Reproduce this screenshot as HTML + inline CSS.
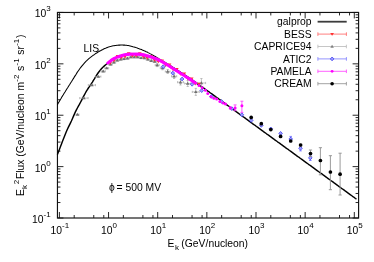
<!DOCTYPE html><html><head><meta charset="utf-8"><style>html,body{margin:0;padding:0;background:#fff;}body{width:374px;height:262px;overflow:hidden;position:relative;}</style></head><body><div style="will-change:transform;position:absolute;left:0;top:0;width:374px;height:262px;"><svg width="374" height="262" viewBox="0 0 374 262" style="position:absolute;left:0;top:0;font-family:'Liberation Sans',sans-serif;">
<rect width="374" height="262" fill="#fff"/>
<g>
<path d="M59.40,218.0v-6M59.40,12.45v6M74.20,218.0v-3M74.20,12.45v3M93.75,218.0v-3M93.75,12.45v3M103.79,218.0v-3M103.79,12.45v3M108.55,218.0v-6M108.55,12.45v6M123.35,218.0v-3M123.35,12.45v3M142.90,218.0v-3M142.90,12.45v3M152.94,218.0v-3M152.94,12.45v3M157.70,218.0v-6M157.70,12.45v6M172.50,218.0v-3M172.50,12.45v3M192.05,218.0v-3M192.05,12.45v3M202.09,218.0v-3M202.09,12.45v3M206.85,218.0v-6M206.85,12.45v6M221.65,218.0v-3M221.65,12.45v3M241.20,218.0v-3M241.20,12.45v3M251.24,218.0v-3M251.24,12.45v3M256.00,218.0v-6M256.00,12.45v6M270.80,218.0v-3M270.80,12.45v3M290.35,218.0v-3M290.35,12.45v3M300.39,218.0v-3M300.39,12.45v3M305.15,218.0v-6M305.15,12.45v6M319.95,218.0v-3M319.95,12.45v3M339.50,218.0v-3M339.50,12.45v3M349.54,218.0v-3M349.54,12.45v3M354.30,218.0v-6M354.30,12.45v6M57.45,218.00h6M358.6,218.00h-6M57.45,202.53h3M358.6,202.53h-3M57.45,193.48h3M358.6,193.48h-3M57.45,187.06h3M358.6,187.06h-3M57.45,182.08h3M358.6,182.08h-3M57.45,178.01h3M358.6,178.01h-3M57.45,174.57h3M358.6,174.57h-3M57.45,171.59h3M358.6,171.59h-3M57.45,168.96h3M358.6,168.96h-3M57.45,166.61h6M358.6,166.61h-6M57.45,151.14h3M358.6,151.14h-3M57.45,142.09h3M358.6,142.09h-3M57.45,135.67h3M358.6,135.67h-3M57.45,130.69h3M358.6,130.69h-3M57.45,126.63h3M358.6,126.63h-3M57.45,123.19h3M358.6,123.19h-3M57.45,120.20h3M358.6,120.20h-3M57.45,117.58h3M358.6,117.58h-3M57.45,115.22h6M358.6,115.22h-6M57.45,99.76h3M358.6,99.76h-3M57.45,90.71h3M358.6,90.71h-3M57.45,84.29h3M358.6,84.29h-3M57.45,79.31h3M358.6,79.31h-3M57.45,75.24h3M358.6,75.24h-3M57.45,71.80h3M358.6,71.80h-3M57.45,68.82h3M358.6,68.82h-3M57.45,66.19h3M358.6,66.19h-3M57.45,63.84h6M358.6,63.84h-6M57.45,48.37h3M358.6,48.37h-3M57.45,39.32h3M358.6,39.32h-3M57.45,32.90h3M358.6,32.90h-3M57.45,27.92h3M358.6,27.92h-3M57.45,23.85h3M358.6,23.85h-3M57.45,20.41h3M358.6,20.41h-3M57.45,17.43h3M358.6,17.43h-3M57.45,14.80h3M358.6,14.80h-3M57.45,12.45h6M358.6,12.45h-6" stroke="#111" stroke-width="0.9" fill="none"/>
<rect x="57.45" y="12.45" width="301.15000000000003" height="205.55" fill="none" stroke="#111" stroke-width="1.15"/>
<text x="59.9" y="234.4" font-size="10.35" text-anchor="middle">10<tspan dy="-6.2" font-size="8">-1</tspan></text>
<text x="109.0" y="234.4" font-size="10.35" text-anchor="middle">10<tspan dy="-6.2" font-size="8">0</tspan></text>
<text x="158.2" y="234.4" font-size="10.35" text-anchor="middle">10<tspan dy="-6.2" font-size="8">1</tspan></text>
<text x="207.3" y="234.4" font-size="10.35" text-anchor="middle">10<tspan dy="-6.2" font-size="8">2</tspan></text>
<text x="256.5" y="234.4" font-size="10.35" text-anchor="middle">10<tspan dy="-6.2" font-size="8">3</tspan></text>
<text x="305.6" y="234.4" font-size="10.35" text-anchor="middle">10<tspan dy="-6.2" font-size="8">4</tspan></text>
<text x="354.8" y="234.4" font-size="10.35" text-anchor="middle">10<tspan dy="-6.2" font-size="8">5</tspan></text>
<text x="50.7" y="222.9" font-size="10.35" text-anchor="end">10<tspan dy="-5.9" font-size="8">-1</tspan></text>
<text x="50.7" y="171.5" font-size="10.35" text-anchor="end">10<tspan dy="-5.9" font-size="8">0</tspan></text>
<text x="50.7" y="120.1" font-size="10.35" text-anchor="end">10<tspan dy="-5.9" font-size="8">1</tspan></text>
<text x="50.7" y="68.7" font-size="10.35" text-anchor="end">10<tspan dy="-5.9" font-size="8">2</tspan></text>
<text x="50.7" y="17.3" font-size="10.35" text-anchor="end">10<tspan dy="-5.9" font-size="8">3</tspan></text>
<text x="167.6" y="247.2" font-size="10.35">E<tspan dx="0.4" dy="2.5" font-size="8">k</tspan><tspan dx="-0.4" dy="-2.5"> (GeV/nucleon)</tspan></text>
<text transform="translate(24.1,196.0) rotate(-90)" font-size="10.35">E<tspan dx="0" dy="2.5" font-size="8">k</tspan><tspan dx="0.9" dy="-8" font-size="8">2</tspan><tspan dx="0.65" dy="5.5">Flux (GeV/nucleon m</tspan><tspan dx="0.3" dy="-5.5" font-size="8">-2</tspan><tspan dx="0.7" dy="5.5"> s</tspan><tspan dx="0.3" dy="-5.5" font-size="8">-1</tspan><tspan dx="0.7" dy="5.5"> sr</tspan><tspan dx="0.3" dy="-5.5" font-size="8">-1</tspan><tspan dx="0.7" dy="5.5">)</tspan></text>
<text x="83.5" y="52" font-size="10.35">LIS</text>
<text x="108.9" y="190.8" font-size="10.35">ϕ<tspan dx="-1.1"> = 500 MV</tspan></text>
<path d="M57.4,104.8 L58.3,103.1 L59.3,101.4 L60.2,99.8 L61.2,98.2 L62.1,96.6 L63.1,95.1 L64.0,93.5 L65.0,92.0 L65.9,90.5 L66.8,89.0 L67.8,87.5 L68.7,86.0 L69.7,84.5 L70.6,83.0 L71.6,81.5 L72.5,79.9 L73.5,78.4 L74.4,76.9 L75.4,75.4 L76.3,73.9 L77.2,72.4 L78.2,71.0 L79.1,69.7 L80.1,68.3 L81.0,67.1 L82.0,65.9 L82.9,64.8 L83.9,63.7 L84.8,62.6 L85.7,61.6 L86.7,60.7 L87.6,59.8 L88.6,58.9 L89.5,58.1 L90.5,57.4 L91.4,56.6 L92.4,55.9 L93.3,55.2 L94.3,54.6 L95.2,53.9 L96.1,53.3 L97.1,52.7 L98.0,52.1 L99.0,51.5 L99.9,51.0 L100.9,50.5 L101.8,50.0 L102.8,49.5 L103.7,49.0 L104.6,48.6 L105.6,48.2 L106.5,47.8 L107.5,47.4 L108.4,47.1 L109.4,46.8 L110.3,46.5 L111.3,46.3 L112.2,46.0 L113.2,45.8 L114.1,45.7 L115.0,45.5 L116.0,45.4 L116.9,45.3 L117.9,45.2 L118.8,45.1 L119.8,45.1 L120.7,45.0 L121.7,45.0 L122.6,45.0 L123.5,45.1 L124.5,45.1 L125.4,45.2 L126.4,45.3 L127.3,45.4 L128.3,45.6 L129.2,45.8 L130.2,46.0 L131.1,46.2 L132.1,46.4 L133.0,46.7 L133.9,46.9 L134.9,47.2 L135.8,47.5 L136.8,47.8 L137.7,48.2 L138.7,48.5 L139.6,48.9 L140.6,49.2 L141.5,49.6 L142.4,50.0 L143.4,50.4 L144.3,50.8 L145.3,51.2 L146.2,51.7 L147.2,52.1 L148.1,52.6 L149.1,53.1 L150.0,53.6 L151.0,54.1 L151.9,54.6 L152.8,55.1 L153.8,55.7 L154.7,56.2 L155.7,56.8 L156.6,57.4 L157.6,57.9 L158.5,58.5 L159.5,59.1 L160.4,59.6 L161.3,60.2 L162.3,60.8 L163.2,61.3 L164.2,61.9 L165.1,62.5 L166.1,63.0 L167.0,63.6 L168.0,64.2 L168.9,64.8 L169.9,65.3 L170.8,65.9 L171.7,66.5 L172.7,67.1 L173.6,67.7 L174.6,68.3 L175.5,68.9 L176.5,69.5 L177.4,70.1 L178.4,70.7 L179.3,71.4 L180.2,72.0 L181.2,72.6 L182.1,73.2 L183.1,73.9 L184.0,74.5 L185.0,75.1 L185.9,75.8 L186.9,76.4 L187.8,77.0 L188.8,77.7 L189.7,78.3 L190.6,79.0 L191.6,79.6 L192.5,80.3 L193.5,80.9 L194.4,81.6 L195.4,82.2 L196.3,82.9 L197.3,83.5 L198.2,84.2" stroke="#000" stroke-width="1.05" fill="none"/>
<path d="M57.4,154.5 L58.4,151.9 L59.4,149.4 L60.4,146.8 L61.4,144.2 L62.4,141.6 L63.4,139.0 L64.4,136.4 L65.4,133.9 L66.4,131.5 L67.4,129.2 L68.4,127.1 L69.4,125.1 L70.4,123.1 L71.4,121.0 L72.4,118.7 L73.4,116.4 L74.4,114.1 L75.4,111.9 L76.4,109.9 L77.4,108.0 L78.4,106.2 L79.4,104.4 L80.4,102.5 L81.4,100.6 L82.4,98.6 L83.4,96.7 L84.4,94.8 L85.4,93.0 L86.4,91.2 L87.4,89.6 L88.4,88.0 L89.4,86.6 L90.4,85.1 L91.4,83.6 L92.4,82.1 L93.4,80.4 L94.4,78.8 L95.4,77.1 L96.4,75.5 L97.4,74.0 L98.4,72.5 L99.4,71.2 L100.4,69.9 L101.4,68.8 L102.4,67.7 L103.4,66.8 L104.4,65.9 L105.4,65.0 L106.4,64.2 L107.4,63.5 L108.4,62.7 L109.4,61.9 L110.4,61.1 L111.4,60.4 L112.4,59.8 L113.4,59.2 L114.4,58.6 L115.4,58.1 L116.4,57.7 L117.4,57.2 L118.4,56.8 L119.4,56.5 L120.4,56.2 L121.4,55.8 L122.4,55.6 L123.4,55.3 L124.4,55.1 L125.4,54.9 L126.4,54.7 L127.4,54.6 L128.4,54.4 L129.4,54.3 L130.4,54.3 L131.4,54.2 L132.4,54.2 L133.4,54.2 L134.4,54.2 L135.4,54.2 L136.4,54.2 L137.4,54.3 L138.4,54.4 L139.4,54.5 L140.4,54.6 L141.4,54.7 L142.4,54.9 L143.4,55.0 L144.4,55.3 L145.4,55.5 L146.4,55.7 L147.4,56.0 L148.4,56.3 L149.4,56.6 L150.4,56.9 L151.4,57.3 L152.4,57.6 L153.4,58.0 L154.4,58.4 L155.4,58.7 L156.4,59.1 L157.4,59.6 L158.4,60.0 L159.4,60.4 L160.4,60.9 L161.4,61.4 L162.4,61.9 L163.4,62.4 L164.4,62.9 L165.4,63.5 L166.4,64.0 L167.4,64.6 L168.4,65.1 L169.4,65.7 L170.4,66.2 L171.4,66.8 L172.4,67.4 L173.4,68.0 L174.4,68.6 L175.4,69.2 L176.4,69.8 L177.4,70.5 L178.4,71.1 L179.4,71.7 L180.4,72.3 L181.4,73.0 L182.4,73.6 L183.4,74.3 L184.4,74.9 L185.4,75.5 L186.4,76.2 L187.4,76.8 L188.4,77.5 L189.4,78.2 L190.4,78.8 L191.4,79.5 L192.4,80.2 L193.4,80.9 L194.4,81.6 L195.4,82.3 L196.4,83.0 L197.4,83.7 L198.4,84.4 L199.4,85.1 L200.4,85.8 L201.4,86.5 L202.4,87.2 L203.4,87.9 L204.4,88.6 L205.4,89.4 L206.4,90.1 L207.5,90.8 L208.5,91.5 L209.5,92.2 L210.5,93.0 L211.5,93.7 L212.5,94.4 L213.5,95.1 L214.5,95.8 L215.5,96.6 L216.5,97.3 L217.5,98.0 L218.5,98.7 L219.5,99.5 L220.5,100.2 L221.5,100.9 L222.5,101.7 L223.5,102.4 L224.5,103.1 L225.5,103.8 L226.5,104.6 L227.5,105.3 L228.5,106.0 L229.5,106.8 L230.5,107.5 L231.5,108.2 L232.5,109.0 L233.5,109.7 L234.5,110.4 L235.5,111.1 L236.5,111.9 L237.5,112.6 L238.5,113.3 L239.5,114.1 L240.5,114.8 L241.5,115.5 L242.5,116.3 L243.5,117.0 L244.5,117.7 L245.5,118.4 L246.5,119.2 L247.5,119.9 L248.5,120.6 L249.5,121.4 L250.5,122.1 L251.5,122.8 L252.5,123.6 L253.5,124.3 L254.5,125.0 L255.5,125.7 L256.5,126.5 L257.5,127.2 L258.5,127.9 L259.5,128.7 L260.5,129.4 L261.5,130.1 L262.5,130.8 L263.5,131.6 L264.5,132.3 L265.5,133.0 L266.5,133.8 L267.5,134.5 L268.5,135.2 L269.5,135.9 L270.5,136.7 L271.5,137.4 L272.5,138.1 L273.5,138.8 L274.5,139.6 L275.5,140.3 L276.5,141.0 L277.5,141.8 L278.5,142.5 L279.5,143.2 L280.5,143.9 L281.5,144.7 L282.5,145.4 L283.5,146.1 L284.5,146.8 L285.5,147.6 L286.5,148.3 L287.5,149.0 L288.5,149.7 L289.5,150.5 L290.5,151.2 L291.5,151.9 L292.5,152.6 L293.5,153.4 L294.5,154.1 L295.5,154.8 L296.5,155.6 L297.5,156.3 L298.5,157.0 L299.5,157.7 L300.5,158.5 L301.5,159.2 L302.5,159.9 L303.5,160.6 L304.5,161.4 L305.5,162.1 L306.5,162.8 L307.5,163.5 L308.5,164.3 L309.5,165.0 L310.5,165.7 L311.5,166.4 L312.5,167.2 L313.5,167.9 L314.5,168.6 L315.5,169.4 L316.5,170.1 L317.5,170.8 L318.5,171.5 L319.5,172.3 L320.5,173.0 L321.5,173.7 L322.5,174.4 L323.5,175.2 L324.5,175.9 L325.5,176.6 L326.5,177.3 L327.5,178.1 L328.5,178.8 L329.5,179.5 L330.5,180.3 L331.5,181.0 L332.5,181.7 L333.5,182.4 L334.5,183.2 L335.5,183.9 L336.5,184.6 L337.5,185.3 L338.5,186.1 L339.5,186.8 L340.5,187.5 L341.5,188.3 L342.5,189.0 L343.5,189.7 L344.5,190.4 L345.5,191.2 L346.5,191.9 L347.5,192.6 L348.5,193.4 L349.5,194.1 L350.5,194.8 L351.5,195.5 L352.5,196.3 L353.5,197.0 L354.5,197.7 L355.5,198.5 L356.5,199.2" stroke="#000" stroke-width="1.45" fill="none" stroke-linejoin="round"/>
<path d="M76.0,114.5H79.0M76.0,113.4v2.2M79.0,113.4v2.2" stroke="#a8a8a8" stroke-width="0.7" fill="none"/>
<path d="M77.5,112.8l1.8,2.9h-3.6z" fill="#707070"/>
<path d="M79.7,98.1H88.1M79.7,97.0v2.2M88.1,97.0v2.2M83.9,97.6V98.6M82.8,97.6h2.2M82.8,98.6h2.2" stroke="#a8a8a8" stroke-width="0.7" fill="none"/>
<path d="M83.9,96.4l1.8,2.9h-3.6z" fill="#707070"/>
<path d="M88.3,85.1H95.5M88.3,84.0v2.2M95.5,84.0v2.2M91.9,84.6V85.6M90.8,84.6h2.2M90.8,85.6h2.2" stroke="#a8a8a8" stroke-width="0.7" fill="none"/>
<path d="M91.9,83.4l1.8,2.9h-3.6z" fill="#707070"/>
<path d="M95.7,76.6H100.9M95.7,75.5v2.2M100.9,75.5v2.2M98.3,76.1V77.1M97.2,76.1h2.2M97.2,77.1h2.2" stroke="#a8a8a8" stroke-width="0.7" fill="none"/>
<path d="M98.3,74.9l1.8,2.9h-3.6z" fill="#707070"/>
<path d="M101.0,71.3H105.4M101.0,70.2v2.2M105.4,70.2v2.2M103.2,70.8V71.8M102.1,70.8h2.2M102.1,71.8h2.2" stroke="#a8a8a8" stroke-width="0.7" fill="none"/>
<path d="M103.2,69.6l1.8,2.9h-3.6z" fill="#707070"/>
<path d="M104.7,68.1H108.7M104.7,67.0v2.2M108.7,67.0v2.2M106.7,67.6V68.6M105.6,67.6h2.2M105.6,68.6h2.2" stroke="#a8a8a8" stroke-width="0.7" fill="none"/>
<path d="M106.7,66.4l1.8,2.9h-3.6z" fill="#707070"/>
<path d="M108.7,64.4H112.3M108.7,63.3v2.2M112.3,63.3v2.2M110.5,63.6V65.2M109.4,63.6h2.2M109.4,65.2h2.2" stroke="#a8a8a8" stroke-width="0.7" fill="none"/>
<path d="M110.5,62.7l1.8,2.9h-3.6z" fill="#707070"/>
<path d="M112.1,62.4H115.7M112.1,61.3v2.2M115.7,61.3v2.2M113.9,61.6V63.2M112.8,61.6h2.2M112.8,63.2h2.2" stroke="#a8a8a8" stroke-width="0.7" fill="none"/>
<path d="M113.9,60.7l1.8,2.9h-3.6z" fill="#707070"/>
<path d="M115.5,60.3H119.1M115.5,59.2v2.2M119.1,59.2v2.2M117.3,59.5V61.1M116.2,59.5h2.2M116.2,61.1h2.2" stroke="#a8a8a8" stroke-width="0.7" fill="none"/>
<path d="M117.3,58.6l1.8,2.9h-3.6z" fill="#707070"/>
<path d="M118.9,59.4H122.5M118.9,58.3v2.2M122.5,58.3v2.2M120.7,58.6V60.2M119.6,58.6h2.2M119.6,60.2h2.2" stroke="#a8a8a8" stroke-width="0.7" fill="none"/>
<path d="M120.7,57.7l1.8,2.9h-3.6z" fill="#707070"/>
<path d="M122.3,58.9H125.9M122.3,57.8v2.2M125.9,57.8v2.2M124.1,58.1V59.7M123.0,58.1h2.2M123.0,59.7h2.2" stroke="#a8a8a8" stroke-width="0.7" fill="none"/>
<path d="M124.1,57.2l1.8,2.9h-3.6z" fill="#707070"/>
<path d="M125.7,58.3H129.3M125.7,57.2v2.2M129.3,57.2v2.2M127.5,57.5V59.1M126.4,57.5h2.2M126.4,59.1h2.2" stroke="#a8a8a8" stroke-width="0.7" fill="none"/>
<path d="M127.5,56.6l1.8,2.9h-3.6z" fill="#707070"/>
<path d="M129.1,57.1H132.7M129.1,56.0v2.2M132.7,56.0v2.2M130.9,56.3V57.9M129.8,56.3h2.2M129.8,57.9h2.2" stroke="#a8a8a8" stroke-width="0.7" fill="none"/>
<path d="M130.9,55.4l1.8,2.9h-3.6z" fill="#707070"/>
<path d="M132.5,57.1H136.1M132.5,56.0v2.2M136.1,56.0v2.2M134.3,56.3V57.9M133.2,56.3h2.2M133.2,57.9h2.2" stroke="#a8a8a8" stroke-width="0.7" fill="none"/>
<path d="M134.3,55.4l1.8,2.9h-3.6z" fill="#707070"/>
<path d="M135.9,57.1H139.5M135.9,56.0v2.2M139.5,56.0v2.2M137.7,56.3V57.9M136.6,56.3h2.2M136.6,57.9h2.2" stroke="#a8a8a8" stroke-width="0.7" fill="none"/>
<path d="M137.7,55.4l1.8,2.9h-3.6z" fill="#707070"/>
<path d="M139.3,57.9H142.9M139.3,56.8v2.2M142.9,56.8v2.2M141.1,57.1V58.7M140.0,57.1h2.2M140.0,58.7h2.2" stroke="#a8a8a8" stroke-width="0.7" fill="none"/>
<path d="M141.1,56.2l1.8,2.9h-3.6z" fill="#707070"/>
<path d="M142.7,58.0H146.3M142.7,56.9v2.2M146.3,56.9v2.2M144.5,57.2V58.8M143.4,57.2h2.2M143.4,58.8h2.2" stroke="#a8a8a8" stroke-width="0.7" fill="none"/>
<path d="M144.5,56.3l1.8,2.9h-3.6z" fill="#707070"/>
<path d="M146.1,59.4H149.7M146.1,58.3v2.2M149.7,58.3v2.2M147.9,58.6V60.2M146.8,58.6h2.2M146.8,60.2h2.2" stroke="#a8a8a8" stroke-width="0.7" fill="none"/>
<path d="M147.9,57.7l1.8,2.9h-3.6z" fill="#707070"/>
<path d="M149.5,60.7H153.1M149.5,59.6v2.2M153.1,59.6v2.2M151.3,59.9V61.5M150.2,59.9h2.2M150.2,61.5h2.2" stroke="#a8a8a8" stroke-width="0.7" fill="none"/>
<path d="M151.3,59.0l1.8,2.9h-3.6z" fill="#707070"/>
<path d="M152.9,61.5H156.5M152.9,60.4v2.2M156.5,60.4v2.2M154.7,60.7V62.3M153.6,60.7h2.2M153.6,62.3h2.2" stroke="#a8a8a8" stroke-width="0.7" fill="none"/>
<path d="M154.7,59.8l1.8,2.9h-3.6z" fill="#707070"/>
<path d="M155.2,65.1H159.2M155.2,64.0v2.2M159.2,64.0v2.2M157.2,63.6V66.6M156.1,63.6h2.2M156.1,66.6h2.2" stroke="#a8a8a8" stroke-width="0.7" fill="none"/>
<path d="M157.2,63.4l1.8,2.9h-3.6z" fill="#707070"/>
<path d="M160.3,68.0H164.7M160.3,66.9v2.2M164.7,66.9v2.2M162.5,66.2V69.8M161.4,66.2h2.2M161.4,69.8h2.2" stroke="#a8a8a8" stroke-width="0.7" fill="none"/>
<path d="M162.5,66.3l1.8,2.9h-3.6z" fill="#707070"/>
<path d="M165.3,71.5H170.1M165.3,70.4v2.2M170.1,70.4v2.2M167.7,69.5V73.5M166.6,69.5h2.2M166.6,73.5h2.2" stroke="#a8a8a8" stroke-width="0.7" fill="none"/>
<path d="M167.7,69.8l1.8,2.9h-3.6z" fill="#707070"/>
<path d="M171.5,76.3H176.7M171.5,75.2v2.2M176.7,75.2v2.2M174.1,74.1V78.5M173.0,74.1h2.2M173.0,78.5h2.2" stroke="#a8a8a8" stroke-width="0.7" fill="none"/>
<path d="M174.1,74.6l1.8,2.9h-3.6z" fill="#707070"/>
<path d="M177.5,82.2H183.5M177.5,81.1v2.2M183.5,81.1v2.2M180.5,79.4V85.0M179.4,79.4h2.2M179.4,85.0h2.2" stroke="#a8a8a8" stroke-width="0.7" fill="none"/>
<path d="M180.5,80.5l1.8,2.9h-3.6z" fill="#707070"/>
<path d="M184.7,83.5H190.7M184.7,82.4v2.2M190.7,82.4v2.2M187.7,80.5V86.5M186.6,80.5h2.2M186.6,86.5h2.2" stroke="#a8a8a8" stroke-width="0.7" fill="none"/>
<path d="M187.7,81.8l1.8,2.9h-3.6z" fill="#707070"/>
<path d="M192.3,91.9H199.3M192.3,90.8v2.2M199.3,90.8v2.2M195.8,88.4V95.4M194.7,88.4h2.2M194.7,95.4h2.2" stroke="#a8a8a8" stroke-width="0.7" fill="none"/>
<path d="M195.8,90.2l1.8,2.9h-3.6z" fill="#707070"/>
<path d="M197.2,83.0H205.6M197.2,81.9v2.2M205.6,81.9v2.2M201.4,78.5V87.5M200.3,78.5h2.2M200.3,87.5h2.2" stroke="#a8a8a8" stroke-width="0.7" fill="none"/>
<path d="M201.4,81.3l1.8,2.9h-3.6z" fill="#707070"/>
<path d="M110.2,64.7l1.9,-2.9h-3.8z" fill="#ff3030"/>
<path d="M113.9,62.3l1.9,-2.9h-3.8z" fill="#ff3030"/>
<path d="M117.6,57.9l1.9,-2.9h-3.8z" fill="#ff3030"/>
<path d="M121.3,59.3l1.9,-2.9h-3.8z" fill="#ff3030"/>
<path d="M125.0,58.4l1.9,-2.9h-3.8z" fill="#ff3030"/>
<path d="M128.7,55.1l1.9,-2.9h-3.8z" fill="#ff3030"/>
<path d="M132.4,57.6l1.9,-2.9h-3.8z" fill="#ff3030"/>
<path d="M136.1,57.6l1.9,-2.9h-3.8z" fill="#ff3030"/>
<path d="M139.8,55.2l1.9,-2.9h-3.8z" fill="#ff3030"/>
<path d="M143.5,58.5l1.9,-2.9h-3.8z" fill="#ff3030"/>
<path d="M147.2,59.4l1.9,-2.9h-3.8z" fill="#ff3030"/>
<path d="M150.9,57.8l1.9,-2.9h-3.8z" fill="#ff3030"/>
<path d="M154.6,61.8l1.9,-2.9h-3.8z" fill="#ff3030"/>
<path d="M158.3,63.3l1.9,-2.9h-3.8z" fill="#ff3030"/>
<path d="M162.0,62.5l1.9,-2.9h-3.8z" fill="#ff3030"/>
<path d="M165.7,67.0l1.9,-2.9h-3.8z" fill="#ff3030"/>
<path d="M169.4,66.5l1.9,-2.9h-3.8z" fill="#ff3030"/>
<path d="M173.1,71.2l1.9,-2.9h-3.8z" fill="#ff3030"/>
<path d="M176.8,70.9l1.9,-2.9h-3.8z" fill="#ff3030"/>
<path d="M180.5,75.8l1.9,-2.9h-3.8z" fill="#ff3030"/>
<path d="M184.2,75.5l1.9,-2.9h-3.8z" fill="#ff3030"/>
<path d="M187.9,80.5l1.9,-2.9h-3.8z" fill="#ff3030"/>
<path d="M191.6,80.4l1.9,-2.9h-3.8z" fill="#ff3030"/>
<path d="M195.3,85.6l1.9,-2.9h-3.8z" fill="#ff3030"/>
<path d="M199.0,85.6l1.9,-2.9h-3.8z" fill="#ff3030"/>
<path d="M163.2,64.8l1.8,1.9l-1.8,1.9l-1.8,-1.9z" fill="#a0a0ff" stroke="#4040f0" stroke-width="0.8"/>
<path d="M172.8,71.2l1.8,1.9l-1.8,1.9l-1.8,-1.9z" fill="#a0a0ff" stroke="#4040f0" stroke-width="0.8"/>
<path d="M182.1,77.1l1.8,1.9l-1.8,1.9l-1.8,-1.9z" fill="#a0a0ff" stroke="#4040f0" stroke-width="0.8"/>
<path d="M192.1,82.4l1.8,1.9l-1.8,1.9l-1.8,-1.9z" fill="#a0a0ff" stroke="#4040f0" stroke-width="0.8"/>
<path d="M201.7,88.7l1.8,1.9l-1.8,1.9l-1.8,-1.9z" fill="#a0a0ff" stroke="#4040f0" stroke-width="0.8"/>
<path d="M211.4,94.5l1.8,1.9l-1.8,1.9l-1.8,-1.9z" fill="#a0a0ff" stroke="#4040f0" stroke-width="0.8"/>
<path d="M221.5,99.6l1.8,1.9l-1.8,1.9l-1.8,-1.9z" fill="#a0a0ff" stroke="#4040f0" stroke-width="0.8"/>
<path d="M231.9,106.8l1.8,1.9l-1.8,1.9l-1.8,-1.9z" fill="#a0a0ff" stroke="#4040f0" stroke-width="0.8"/>
<path d="M241.9,112.9l1.8,1.9l-1.8,1.9l-1.8,-1.9z" fill="#a0a0ff" stroke="#4040f0" stroke-width="0.8"/>
<path d="M251.2,118.5l1.8,1.9l-1.8,1.9l-1.8,-1.9z" fill="#a0a0ff" stroke="#4040f0" stroke-width="0.8"/>
<path d="M261.3,123.5l1.8,1.9l-1.8,1.9l-1.8,-1.9z" fill="#a0a0ff" stroke="#4040f0" stroke-width="0.8"/>
<path d="M270.8,127.0l1.8,1.9l-1.8,1.9l-1.8,-1.9z" fill="#a0a0ff" stroke="#4040f0" stroke-width="0.8"/>
<path d="M280.6,131.5l1.8,1.9l-1.8,1.9l-1.8,-1.9z" fill="#a0a0ff" stroke="#4040f0" stroke-width="0.8"/>
<path d="M290.7,136.4V141.6M289.4,136.4h2.6M289.4,141.6h2.6" stroke="#6a6aff" stroke-width="0.8" fill="none"/>
<path d="M290.7,137.1l1.8,1.9l-1.8,1.9l-1.8,-1.9z" fill="#a0a0ff" stroke="#4040f0" stroke-width="0.8"/>
<path d="M300.5,145.7V150.9M299.2,145.7h2.6M299.2,150.9h2.6" stroke="#6a6aff" stroke-width="0.8" fill="none"/>
<path d="M300.5,146.4l1.8,1.9l-1.8,1.9l-1.8,-1.9z" fill="#a0a0ff" stroke="#4040f0" stroke-width="0.8"/>
<path d="M310.3,155.3V160.5M309.0,155.3h2.6M309.0,160.5h2.6" stroke="#6a6aff" stroke-width="0.8" fill="none"/>
<path d="M310.3,156.0l1.8,1.9l-1.8,1.9l-1.8,-1.9z" fill="#a0a0ff" stroke="#4040f0" stroke-width="0.8"/>
<g fill="#ff00ff"><circle cx="107.8" cy="63.0" r="1.6"/><circle cx="109.0" cy="62.0" r="1.6"/><circle cx="110.2" cy="61.1" r="1.6"/><circle cx="111.4" cy="60.2" r="1.6"/><circle cx="112.6" cy="59.4" r="1.6"/><circle cx="113.8" cy="58.7" r="1.6"/><circle cx="115.0" cy="58.1" r="1.6"/><circle cx="116.2" cy="57.5" r="1.6"/><circle cx="117.4" cy="57.0" r="1.6"/><circle cx="118.6" cy="56.6" r="1.6"/><circle cx="119.8" cy="56.2" r="1.6"/><circle cx="121.0" cy="55.8" r="1.6"/><circle cx="122.2" cy="55.4" r="1.6"/><circle cx="123.4" cy="55.1" r="1.6"/><circle cx="124.6" cy="54.8" r="1.6"/><circle cx="125.8" cy="54.6" r="1.6"/><circle cx="127.0" cy="54.4" r="1.6"/><circle cx="128.2" cy="54.3" r="1.6"/><circle cx="129.4" cy="54.1" r="1.6"/><circle cx="130.6" cy="54.1" r="1.6"/><circle cx="131.8" cy="54.0" r="1.6"/><circle cx="133.0" cy="54.0" r="1.6"/><circle cx="134.2" cy="54.0" r="1.6"/><circle cx="135.4" cy="54.0" r="1.6"/><circle cx="136.6" cy="54.1" r="1.6"/><circle cx="137.8" cy="54.1" r="1.6"/><circle cx="139.0" cy="54.2" r="1.6"/><circle cx="140.2" cy="54.3" r="1.6"/><circle cx="141.4" cy="54.5" r="1.6"/><circle cx="142.6" cy="54.7" r="1.6"/><circle cx="143.8" cy="54.9" r="1.6"/><circle cx="145.0" cy="55.2" r="1.6"/><circle cx="146.2" cy="55.5" r="1.6"/><circle cx="147.4" cy="55.8" r="1.6"/><circle cx="148.6" cy="56.2" r="1.6"/><circle cx="149.8" cy="56.5" r="1.6"/><circle cx="151.0" cy="56.9" r="1.6"/><circle cx="152.2" cy="57.3" r="1.6"/><circle cx="153.4" cy="57.8" r="1.6"/><circle cx="154.6" cy="58.2" r="1.6"/><circle cx="155.8" cy="58.7" r="1.6"/><circle cx="157.0" cy="59.2" r="1.6"/><circle cx="158.2" cy="59.7" r="1.6"/><circle cx="159.4" cy="60.2" r="1.6"/><circle cx="160.6" cy="60.8" r="1.6"/><circle cx="161.8" cy="61.5" r="1.6"/><circle cx="163.0" cy="62.2" r="1.6"/><circle cx="164.2" cy="62.9" r="1.6"/><circle cx="165.4" cy="63.6" r="1.6"/><circle cx="166.6" cy="64.3" r="1.6"/><circle cx="167.8" cy="65.1" r="1.6"/><circle cx="169.0" cy="65.8" r="1.6"/><circle cx="170.2" cy="66.6" r="1.6"/><circle cx="171.4" cy="67.4" r="1.6"/><circle cx="172.6" cy="68.1" r="1.6"/><circle cx="173.8" cy="68.9" r="1.6"/><circle cx="175.0" cy="69.7" r="1.6"/><circle cx="176.2" cy="70.5" r="1.6"/><circle cx="177.4" cy="71.2" r="1.6"/><circle cx="178.6" cy="72.0" r="1.6"/><circle cx="179.8" cy="72.7" r="1.6"/><circle cx="181.0" cy="73.5" r="1.6"/><circle cx="182.2" cy="74.3" r="1.6"/><circle cx="183.4" cy="75.0" r="1.6"/><circle cx="184.6" cy="75.8" r="1.6"/><circle cx="185.8" cy="76.6" r="1.6"/><circle cx="187.0" cy="77.4" r="1.6"/><circle cx="188.2" cy="78.1" r="1.6"/><circle cx="189.4" cy="78.9" r="1.6"/><circle cx="190.6" cy="79.7" r="1.6"/><circle cx="191.8" cy="80.5" r="1.6"/><circle cx="193.0" cy="81.4" r="1.6"/><circle cx="194.2" cy="82.2" r="1.6"/></g>
<circle cx="195.8" cy="83.0" r="1.5" fill="#ff00ff"/>
<circle cx="199.0" cy="85.4" r="1.5" fill="#ff00ff"/>
<circle cx="202.2" cy="87.8" r="1.5" fill="#ff00ff"/>
<circle cx="205.4" cy="90.2" r="1.5" fill="#ff00ff"/>
<circle cx="207.8" cy="93.5" r="1.5" fill="#ff00ff"/>
<circle cx="211.0" cy="96.7" r="1.5" fill="#ff00ff"/>
<circle cx="213.9" cy="98.3" r="1.5" fill="#ff00ff"/>
<circle cx="216.7" cy="99.1" r="1.5" fill="#ff00ff"/>
<circle cx="219.9" cy="101.5" r="1.5" fill="#ff00ff"/>
<circle cx="223.1" cy="103.1" r="1.5" fill="#ff00ff"/>
<circle cx="225.5" cy="103.9" r="1.5" fill="#ff00ff"/>
<path d="M230.3,106.9V108.9M228.8,106.9h3.0M228.8,108.9h3.0" stroke="#ff30ff" stroke-width="0.8" fill="none"/>
<circle cx="230.3" cy="107.9" r="1.5" fill="#ff00ff"/>
<path d="M235.1,104.9V110.7M233.6,104.9h3.0M233.6,110.7h3.0" stroke="#ff30ff" stroke-width="0.8" fill="none"/>
<circle cx="235.1" cy="107.9" r="1.5" fill="#ff00ff"/>
<path d="M241.9,101.2V112.4M240.4,101.2h3.0M240.4,112.4h3.0" stroke="#ff30ff" stroke-width="0.8" fill="none"/>
<circle cx="241.9" cy="105.8" r="1.5" fill="#ff00ff"/>
<circle cx="251.2" cy="117.4" r="1.85" fill="#000"/>
<circle cx="261.3" cy="123.7" r="1.85" fill="#000"/>
<circle cx="270.8" cy="129.6" r="1.85" fill="#000"/>
<circle cx="280.6" cy="136.4" r="1.85" fill="#000"/>
<circle cx="290.7" cy="141.0" r="1.85" fill="#000"/>
<path d="M300.6,144.2V145.8M299.0,144.2h3.2M299.0,145.8h3.2" stroke="#909090" stroke-width="0.9" fill="none"/>
<circle cx="300.6" cy="145.0" r="1.85" fill="#000"/>
<path d="M310.5,150.0V156.5M308.9,150.0h3.2M308.9,156.5h3.2" stroke="#909090" stroke-width="0.9" fill="none"/>
<circle cx="310.5" cy="153.5" r="1.85" fill="#000"/>
<path d="M320.4,147.7V174.8M318.8,147.7h3.2M318.8,174.8h3.2" stroke="#909090" stroke-width="0.9" fill="none"/>
<circle cx="320.4" cy="160.5" r="1.85" fill="#000"/>
<path d="M330.4,155.7V189.7M328.8,155.7h3.2M328.8,189.7h3.2" stroke="#909090" stroke-width="0.9" fill="none"/>
<circle cx="330.4" cy="172.0" r="1.85" fill="#000"/>
<path d="M340.1,153.2V195.0M338.5,153.2h3.2M338.5,195.0h3.2" stroke="#909090" stroke-width="0.9" fill="none"/>
<circle cx="340.1" cy="174.2" r="1.85" fill="#000"/>
<text x="311.6" y="25.4" font-size="10.35" text-anchor="end">galprop</text>
<text x="311.6" y="37.8" font-size="10.35" text-anchor="end">BESS</text>
<text x="311.6" y="50.2" font-size="10.35" text-anchor="end">CAPRICE94</text>
<text x="311.6" y="62.6" font-size="10.35" text-anchor="end">ATIC2</text>
<text x="311.6" y="75.0" font-size="10.35" text-anchor="end">PAMELA</text>
<text x="311.6" y="87.4" font-size="10.35" text-anchor="end">CREAM</text>
<path d="M317.59999999999997,21.7H346.7" stroke="#3c3c3c" stroke-width="1.8"/>
<path d="M317.9,34.10H346.4M317.9,32.30v3.6M346.4,32.30v3.6" stroke="#ff7070" stroke-width="0.9" fill="none"/>
<path d="M332.1,35.8l1.9,-2.9h-3.8z" fill="#ff3030"/>
<path d="M317.9,46.50H346.4M317.9,44.70v3.6M346.4,44.70v3.6" stroke="#c0c0c0" stroke-width="0.9" fill="none"/>
<path d="M332.1,44.8l1.8,2.9h-3.6z" fill="#808080"/>
<path d="M317.9,58.90H346.4M317.9,57.10v3.6M346.4,57.10v3.6" stroke="#8888ff" stroke-width="0.9" fill="none"/>
<path d="M332.1,57.0l1.8,1.9l-1.8,1.9l-1.8,-1.9z" fill="#a0a0ff" stroke="#4040f0" stroke-width="0.8"/>
<path d="M317.9,71.30H346.4M317.9,69.50v3.6M346.4,69.50v3.6" stroke="#ff50ff" stroke-width="0.9" fill="none"/>
<circle cx="332.1" cy="71.30" r="1.4" fill="#ff00ff"/>
<path d="M317.9,83.70H346.4M317.9,81.90v3.6M346.4,81.90v3.6" stroke="#999" stroke-width="0.9" fill="none"/>
<circle cx="332.1" cy="83.70" r="1.8" fill="#000"/>
</g></svg></div></body></html>
